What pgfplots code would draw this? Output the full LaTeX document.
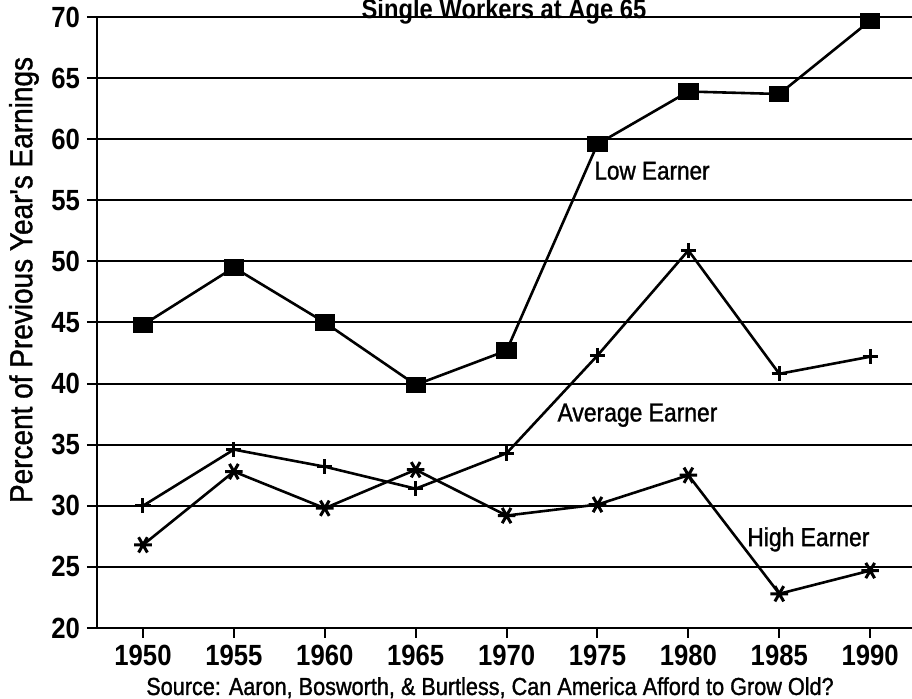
\documentclass[border=0pt]{standalone}
\usepackage{fontspec}
\setmainfont[FakeStretch=0.88]{Liberation Sans}
\newfontfamily\medfont[FakeStretch=0.88, FakeBold=1.2]{Liberation Sans}
\usepackage{pgfplots}
\pgfplotsset{compat=1.18}
\begin{document}
\begin{tikzpicture}
\begin{axis}[
  at={(48.5pt,35.5pt)}, anchor=south west,
  scale only axis, width=407.5pt, height=305.5pt,
  xmin=1947.47, xmax=1992.3, ymin=20, ymax=70,
  axis lines=left, axis line style={-, line width=1.3pt},
  xtick={1950,1955,...,1990}, ytick={20,25,...,70},
  tick align=outside, major tick length=5pt,
  tick style={black, line width=1pt},
  ymajorgrids, grid style={black, line width=1pt},
  /pgf/number format/assume math mode=true,
  /pgf/number format/1000 sep={},
  ticklabel style={font=\fontsize{14.6}{16}\selectfont\bfseries},
  clip=false,
]
\addplot[black, line width=1.3pt, mark=square*, mark size=3.4pt, mark options={xscale=1.3, solid}]
  coordinates {(1950,44.8) (1955,49.5) (1960,45.0) (1965,39.9) (1970,42.7) (1975,59.6) (1980,63.9) (1985,63.7) (1990,69.7)};
\addplot[black, line width=1.3pt, mark=+, mark size=3.8pt, mark options={line width=1.5pt}]
  coordinates {(1950,30.0) (1955,34.6) (1960,33.2) (1965,31.4) (1970,34.3) (1975,42.3) (1980,50.9) (1985,40.8) (1990,42.2)};
\addplot[black, line width=1.3pt, mark=asterisk, mark size=4.4pt, mark options={rotate=90, line width=1.5pt}]
  coordinates {(1950,26.8) (1955,32.8) (1960,29.8) (1965,32.95) (1970,29.2) (1975,30.1) (1980,32.5) (1985,22.8) (1990,24.7)};
\node[anchor=base, font=\medfont\fontsize{12.8}{14}\selectfont] at (axis cs:1978.0,56.7) {Low Earner};
\node[anchor=base, font=\medfont\fontsize{13}{15}\selectfont] at (axis cs:1977.2,36.9) {Average Earner};
\node[anchor=base, font=\medfont\fontsize{13}{15}\selectfont] at (axis cs:1986.6,26.7) {High Earner};
\end{axis}
\node[anchor=base, font=\fontsize{13.5}{15}\selectfont\bfseries] at (252pt,340pt) {Single Workers at Age 65};
\node[rotate=90, font=\medfont\fontsize{15.9}{18}\selectfont] at (12pt,209.5pt) {Percent of Previous Year's Earnings};
\node[anchor=base, font=\medfont\fontsize{12.3}{14}\selectfont] at (245pt,2pt) {Source: Aaron, Bosworth, \& Burtless, Can America Afford to Grow Old?};
\pgfresetboundingbox
\useasboundingbox (0,0) rectangle (456pt,349.5pt);
\end{tikzpicture}
\end{document}
